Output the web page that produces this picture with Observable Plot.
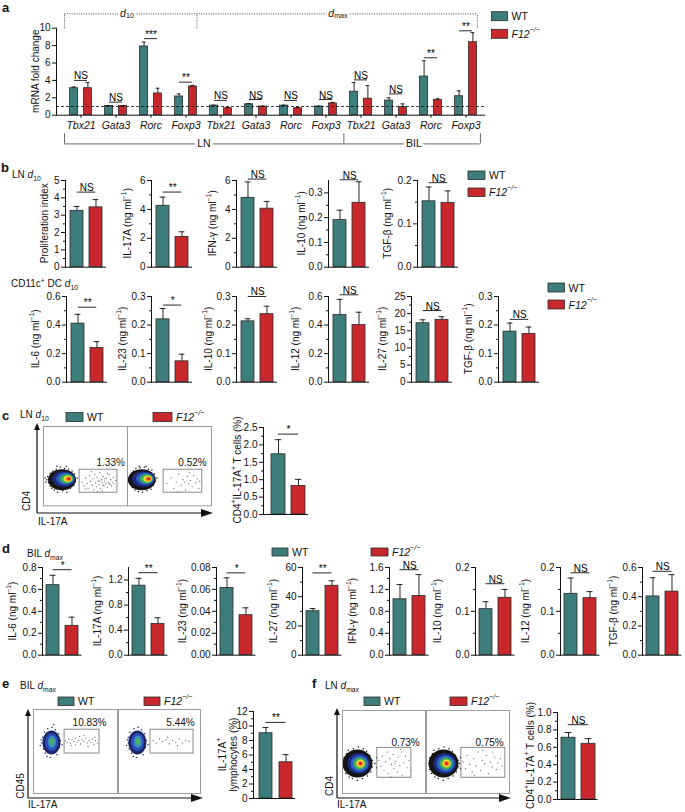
<!DOCTYPE html>
<html><head><meta charset="utf-8">
<script src="https://cdn.jsdelivr.net/npm/d3@7"></script>
<script src="https://cdn.jsdelivr.net/npm/@observablehq/plot@0.6"></script>
<style>
html,body{margin:0;padding:0;background:#fff}
#root{position:relative;width:685px;height:812px;overflow:hidden;background:#fff;font-family:"Liberation Sans",Arial,sans-serif}
</style>
</head><body><div id="root"></div>
<script>
// ---------------- data ----------------
const GROUPS = ["WT", "F12-/-"];
const COLORS = ["#3d7d7b", "#c8282b"];
const INK = "#111111";
const FONT = '"Liberation Sans", Arial, sans-serif';

// panel a: mRNA fold change
const aGenes = ["Tbx21","Gata3","Rorc","Foxp3","Tbx21","Gata3","Rorc","Foxp3","Tbx21","Gata3","Rorc","Foxp3"];
const aWT    = [3.1, 1.05, 7.9, 2.15, 1.1, 1.25, 1.1, 1.0, 2.7, 1.68, 4.44, 2.18];
const aWTerr = [0.15, 0.05, 0.5, 0.3, 0.05, 0.08, 0.05, 0.03, 1.05, 0.32, 1.82, 0.62];
const aKO    = [3.1, 1.05, 2.5, 3.3, 0.8, 1.0, 0.8, 1.35, 1.9, 0.92, 1.76, 8.39];
const aKOerr = [0.65, 0.05, 0.6, 0.12, 0.1, 0.03, 0.1, 0.12, 1.5, 0.38, 0.12, 1.1];
const aSig   = ["NS","NS","***","**","NS","NS","NS","NS","NS","NS","**","**"];
const aSigY  = [4.0, 1.5, 8.8, 3.8, 1.7, 1.8, 1.7, 1.8, 4.06, 2.45, 6.6, 9.7];
const aTicks = [0, 2, 4, 6, 8, 10];
const aTissues = [{label: "LN", first: 0, last: 7}, {label: "BIL", first: 8, last: 11}];

// panel b, LN d10
const b1Names  = ["Proliferation index", "IL-17A", "IFN-γ", "IL-10", "TGF-β"];
const b1WT     = [3.25, 4.25, 4.8, 0.19, 0.152];
const b1WTerr  = [0.25, 0.6, 1.1, 0.04, 0.033];
const b1KO     = [3.45, 2.1, 4.05, 0.26, 0.148];
const b1KOerr  = [0.45, 0.35, 0.5, 0.085, 0.028];
const b1Sig    = ["NS", "**", "NS", "NS", "NS"];
const b1SigY   = [4.33, 5.2, 6.1, 0.353, 0.195];
const b1Max    = [5, 6, 6, 0.35, 0.2];
const b1Ticks  = [[0,1,2,3,4,5], [0,2,4,6], [0,2,4,6], [0,0.1,0.2,0.3], [0,0.1,0.2]];
const b1Fmt    = ["d", "d", "d", ".1f", ".1f"];

// panel b, CD11c+ DC d10
const b2Names  = ["IL-6", "IL-23", "IL-10", "IL-12", "IL-27", "TGF-β"];
const b2WT     = [0.41, 0.22, 0.213, 0.47, 17.2, 0.177];
const b2WTerr  = [0.065, 0.038, 0.009, 0.11, 1.0, 0.03];
const b2KO     = [0.24, 0.073, 0.238, 0.40, 18.2, 0.169];
const b2KOerr  = [0.044, 0.025, 0.028, 0.09, 0.9, 0.024];
const b2Sig    = ["**", "*", "NS", "NS", "NS", "NS"];
const b2SigY   = [0.525, 0.27, 0.3, 0.612, 20.9, 0.22];
const b2Max    = [0.6, 0.3, 0.3, 0.6, 25, 0.3];
const b2Ticks  = [[0,0.2,0.4,0.6], [0,0.1,0.2,0.3], [0,0.1,0.2,0.3], [0,0.2,0.4,0.6], [0,5,10,15,20,25], [0,0.1,0.2,0.3]];
const b2Fmt    = [".1f", ".1f", ".1f", ".1f", "d", ".1f"];

// panel c
const cWT = [1.73], cWTerr = [0.42], cKO = [0.82], cKOerr = [0.19];
const cSig = ["*"], cSigY = [2.31], cMax = [2.5], cTicks = [[0,0.5,1,1.5,2,2.5]], cFmt = [".1f"];
const cPct = ["1.33%", "0.52%"];

// panel d, BIL dmax
const dNames  = ["IL-6", "IL-17A", "IL-23", "IL-27", "IFN-γ", "IL-10", "IL-12", "TGF-β"];
const dWT     = [0.639, 1.11, 0.0614, 30.1, 1.02, 0.105, 0.140, 0.402];
const dWTerr  = [0.09, 0.117, 0.0092, 1.8, 0.27, 0.017, 0.036, 0.128];
const dKO     = [0.268, 0.50, 0.0365, 47.5, 1.08, 0.131, 0.130, 0.435];
const dKOerr  = [0.079, 0.097, 0.0067, 3.4, 0.39, 0.019, 0.015, 0.116];
const dSig    = ["*", "**", "*", "**", "NS", "NS", "NS", "NS"];
const dSigY   = [0.78, 1.317, 0.0751, 56.3, 1.56, 0.163, 0.188, 0.574];
const dMax    = [0.8, 1.4, 0.08, 60, 1.6, 0.2, 0.2, 0.6];
const dTicks  = [[0,0.2,0.4,0.6,0.8], [0,0.4,0.8,1.2], [0,0.02,0.04,0.06,0.08], [0,20,40,60], [0,0.4,0.8,1.2,1.6], [0,0.1,0.2], [0,0.1,0.2], [0,0.2,0.4,0.6]];
const dFmt    = [".1f", ".1f", ".2f", "d", ".1f", ".1f", ".1f", ".1f"];

// panel e, BIL dmax
const eWT = [9.0], eWTerr = [0.8], eKO = [5.0], eKOerr = [1.05];
const eSig = ["**"], eSigY = [10.5], eMax = [12], eTicks = [[0,2,4,6,8,10,12]], eFmt = ["d"];
const ePct = ["10.83%", "5.44%"];

// panel f, LN dmax
const fWT = [0.71], fWTerr = [0.06], fKO = [0.64], fKOerr = [0.06];
const fSig = ["NS"], fSigY = [0.86], fMax = [1.0], fTicks = [[0,0.2,0.4,0.6,0.8,1.0]], fFmt = [".1f"];
const fPct = ["0.73%", "0.75%"];

// flow cytometry events (IL-17A vs CD4/CD45, arbitrary units 0-100)
const cWTdensity = [
  {x:22, y:33, rx:14, ry:10.5, fill:"#141414"}, {x:24, y:33.5, rx:11.5, ry:8, fill:"#1c2a7a"},
  {x:26, y:34, rx:9, ry:6, fill:"#2d62c9"}, {x:27.5, y:34, rx:6.5, ry:4.6, fill:"#3cae5a"},
  {x:29, y:34, rx:4.5, ry:3.3, fill:"#e9df2a"}, {x:29.8, y:34, rx:3, ry:2.3, fill:"#f0862a"},
  {x:30.3, y:34, rx:1.7, ry:1.4, fill:"#e0241f"}];
const cKOdensity = [
  {x:17, y:33, rx:14, ry:10.5, fill:"#141414"}, {x:19, y:33.5, rx:11.5, ry:8, fill:"#1c2a7a"},
  {x:21, y:34, rx:9, ry:6, fill:"#2d62c9"}, {x:22.5, y:34, rx:6.5, ry:4.6, fill:"#3cae5a"},
  {x:24, y:34, rx:4.5, ry:3.3, fill:"#e9df2a"}, {x:24.8, y:34, rx:3, ry:2.3, fill:"#f0862a"},
  {x:25.3, y:34, rx:1.7, ry:1.4, fill:"#e0241f"}];
const cWTedge = [[4,33],[6,29],[5,37],[8,25],[8,41],[10,22],[11,44],[13,20],[15,46],[17,17],[20,49],[23,19],[25,47],[28,17],[30,46],[32,22],[34,44],[36,26],[37,40],[38,31],[40,35],[3,30],[7,34],[12,42],[9,31],[33,38],[35,29],[2,35],[16,50],[27,50]];
const cKOedge = [[2,31],[3,36],[4,27],[5,40],[6,23],[7,44],[9,20],[10,47],[13,18],[15,48],[18,17],[20,49],[23,19],[25,46],[28,21],[29,45],[31,26],[32,40],[33,31],[35,35],[1,34],[6,33],[11,43],[14,50],[22,50],[30,29]];
const cWTgate = [[46,30],[48,25],[50,35],[52,28],[53,22],[55,38],[56,31],[58,26],[59,34],[60,20],[61,40],[62,29],[63,24],[64,36],[65,31],[66,27],[67,42],[68,22],[69,33],[70,29],[71,37],[72,25],[73,31],[74,28],[75,35],[76,23],[77,30],[78,39],[79,27],[80,33],[81,25],[82,30],[83,36],[84,28],[86,32],[70,19],[57,43],[64,18],[76,41],[50,21],[73,34],[78,28],[67,31],[71,26]];
const cKOgate = [[47,28],[52,35],[55,22],[58,30],[61,40],[64,26],[66,33],[69,20],[71,37],[73,28],[75,32],[77,24],[79,38],[81,29],[83,34],[85,22],[68,30],[60,18],[74,42],[86,31]];

const eWTdensity = [
  {x:21.4, y:60.7, rx:9, ry:12, fill:"#1d2468"}, {x:21.6, y:61, rx:6.5, ry:9, fill:"#2b4fb8"},
  {x:22, y:61.5, rx:4, ry:6, fill:"#3f8fc0"}, {x:22.5, y:62, rx:2.2, ry:3.5, fill:"#4cb25a"}];
const eKOdensity = [
  {x:23, y:60.7, rx:9, ry:12, fill:"#1d2468"}, {x:23.2, y:61, rx:6.5, ry:9, fill:"#2b4fb8"},
  {x:23.6, y:61.5, rx:4, ry:6, fill:"#3f8fc0"}, {x:24, y:62, rx:2.2, ry:3.5, fill:"#4cb25a"}];
const eWTedge = [[10,60],[11,67],[12,53],[13,73],[14,48],[17,77],[16,44],[26,76],[28,46],[30,71],[31,55],[32,63],[9,64],[20,43],[22,79],[34,58],[8,57],[24,82]];
const eKOedge = [[12,60],[12,67],[13,53],[14,73],[16,48],[19,77],[18,44],[28,76],[30,46],[32,71],[33,55],[34,63],[11,64],[22,43],[24,79],[36,58],[10,57]];
const eWTgate = [[38,63],[40,61],[42,65],[44,60],[46,64],[48,62],[50,66],[52,61],[54,63],[56,59],[58,64],[60,62],[62,66],[64,60],[66,63],[68,61],[70,65],[72,58],[74,63],[76,60],[45,57],[55,68],[65,56],[73,67],[50,58],[60,69]];
const eKOgate = [[42,63],[46,60],[50,65],[54,62],[58,64],[62,59],[66,63],[70,61],[74,65],[78,60],[82,63],[86,62],[60,67],[72,57]];

const fWTdensity = [
  {x:18, y:36, rx:15, ry:14, fill:"#141414"}, {x:19.5, y:36, rx:11.5, ry:10.5, fill:"#1c2a7a"},
  {x:20.5, y:36, rx:9, ry:8.3, fill:"#2d62c9"}, {x:21, y:36, rx:6.5, ry:6, fill:"#3cae5a"},
  {x:21.5, y:36, rx:4.3, ry:4, fill:"#e9df2a"}, {x:21.7, y:36, rx:2.8, ry:2.6, fill:"#f0862a"},
  {x:21.7, y:36, rx:1.6, ry:1.5, fill:"#e0241f"}];
const fKOdensity = [
  {x:20.5, y:36, rx:15, ry:14, fill:"#141414"}, {x:22, y:36, rx:11.5, ry:10.5, fill:"#1c2a7a"},
  {x:23, y:36, rx:9, ry:8.3, fill:"#2d62c9"}, {x:23.5, y:36, rx:6.5, ry:6, fill:"#3cae5a"},
  {x:24, y:36, rx:4.3, ry:4, fill:"#e9df2a"}, {x:24.1, y:36, rx:2.8, ry:2.6, fill:"#f0862a"},
  {x:24.1, y:36, rx:1.6, ry:1.5, fill:"#e0241f"}];
const fWTedge = [[1,36],[3,29],[2,43],[4,24],[5,48],[8,20],[7,52],[12,18],[13,54],[18,16],[19,56],[24,18],[25,54],[30,21],[29,51],[34,26],[33,46],[36,32],[36,40],[39,36],[41,31],[41,43],[6,34],[10,45],[27,27],[15,24]];
const fKOedge = [[3,36],[4,29],[4,43],[6,24],[7,48],[10,20],[9,52],[14,18],[15,54],[20,16],[21,56],[26,18],[27,54],[32,21],[31,51],[36,26],[35,46],[38,32],[38,40],[40,36],[41,30],[41,43],[8,34],[12,45],[29,27]];
const fWTgate = [[44,40],[46,33],[48,45],[50,28],[52,38],[54,50],[55,24],[57,42],[59,35],[61,47],[62,30],[64,39],[66,26],[67,44],[69,34],[71,50],[72,22],[74,37],[76,45],[78,31],[80,40],[82,28],[58,20],[70,53],[63,36]];
const fKOgate = [[44,38],[47,30],[49,46],[52,35],[55,26],[57,42],[60,33],[62,50],[65,28],[67,40],[70,36],[72,46],[75,24],[77,38],[79,32],[82,44],[84,29],[86,37],[89,42],[91,33],[68,52],[58,22],[80,50]];

// ---------------- layout ----------------
const root = document.getElementById("root");
function place(el, left, top) {
  el.style.position = "absolute"; el.style.left = left + "px"; el.style.top = top + "px";
  root.appendChild(el);
}
const baseStyle = {fontFamily: FONT, fontSize: "10px", color: INK, background: "transparent", overflow: "visible"};

function barPanel(L, D) {
  D.wt.forEach((_, i) => {
    const mL = 40, mT = 24, mB = 3, mR = 3;
    const span = 2 * L.bw + L.gap;
    const inner = L.off + span + 2;
    const H = L.bot - L.top;
    const rows = [
      {g: GROUPS[0], v: D.wt[i], e: D.wt[i] + D.wtErr[i]},
      {g: GROUPS[1], v: D.ko[i], e: D.ko[i] + D.koErr[i]}];
    const sig = [{a: GROUPS[0], b: GROUPS[1], y: D.sigY[i], label: D.sig[i]}];
    const ticks = D.ticks[i];
    const minor = d3.pairs(ticks, (p, q) => (p + q) / 2);
    const x0 = mL + L.off;
    const svg = Plot.plot({
      width: mL + inner + mR, height: mT + H + mB,
      marginLeft: mL, marginRight: mR, marginTop: mT, marginBottom: mB,
      style: baseStyle,
      x: {type: "band", domain: GROUPS, range: [x0, x0 + span], paddingInner: L.gap / (L.bw + L.gap), paddingOuter: 0, axis: null},
      y: {domain: [0, D.max[i]], axis: null},
      color: {domain: GROUPS, range: COLORS},
      marks: [
        Plot.barY(rows, {x: "g", y: "v", fill: "g", stroke: "#2b2b2b", strokeWidth: 0.8}),
        Plot.ruleX(rows, {x: "g", y1: "v", y2: "e", stroke: INK, strokeWidth: 0.9}),
        Plot.tickY(rows, {x: "g", y: "e", stroke: INK, strokeWidth: 0.9, insetLeft: L.bw * 0.27, insetRight: L.bw * 0.27}),
        Plot.axisY({ticks, tickSize: 4, tickPadding: 2, tickFormat: d3.format(D.fmt[i]), stroke: INK, fill: INK, fontSize: 10}),
        Plot.axisY({ticks: minor, tickSize: 2, tickFormat: () => "", stroke: INK}),
        Plot.frame({anchor: "left", stroke: INK}),
        Plot.frame({anchor: "bottom", stroke: INK}),
        Plot.ruleY(sig, {x1: "a", x2: "b", y: "y", insetLeft: L.bw / 2, insetRight: L.bw / 2, stroke: INK, strokeWidth: 0.9}),
        Plot.text(sig, {x: "a", y: "y", text: "label", dx: (L.bw + L.gap) / 2, dy: -1, lineAnchor: "bottom", fontSize: 10, fill: "#000"})
      ]
    });
    place(svg, L.axes[i] - mL, L.top - mT);
  });
}

// panel a chart
(function panelA() {
  const keys = d3.range(aGenes.length);
  const bwid = 35.74, half = bwid / 2, barW = 8.8, barGap = 5, wc = (barW + barGap) / 2;
  const wt = keys.map(i => ({k: i, v: aWT[i], e: aWT[i] + aWTerr[i]}));
  const ko = keys.map(i => ({k: i, v: aKO[i], e: aKO[i] + aKOerr[i]}));
  const sig = keys.map(i => ({k: i, y: aSigY[i], label: aSig[i]}));
  const H = 160, yTop = 27.7, yBot = 114.7;
  const svg = Plot.plot({
    width: 490, height: H, marginLeft: 56, marginRight: 6, marginTop: yTop, marginBottom: H - yBot,
    style: baseStyle,
    x: {type: "band", domain: keys, range: [58.6, 58.6 + 12 * bwid], padding: 0, axis: null},
    y: {domain: [0, 10], axis: null},
    marks: [
      Plot.barY(wt, {x: "k", y: "v", fill: COLORS[0], stroke: "#2b2b2b", strokeWidth: 0.8, insetLeft: half - wc - barW / 2, insetRight: half + wc - barW / 2}),
      Plot.barY(ko, {x: "k", y: "v", fill: COLORS[1], stroke: "#2b2b2b", strokeWidth: 0.8, insetLeft: half + wc - barW / 2, insetRight: half - wc - barW / 2}),
      Plot.ruleX(wt, {x: "k", y1: "v", y2: "e", dx: -wc, stroke: INK, strokeWidth: 0.9}),
      Plot.ruleX(ko, {x: "k", y1: "v", y2: "e", dx: wc, stroke: INK, strokeWidth: 0.9}),
      Plot.tickY(wt, {x: "k", y: "e", insetLeft: half - wc - 2.3, insetRight: half + wc - 2.3, stroke: INK, strokeWidth: 0.9}),
      Plot.tickY(ko, {x: "k", y: "e", insetLeft: half + wc - 2.3, insetRight: half - wc - 2.3, stroke: INK, strokeWidth: 0.9}),
      Plot.ruleY([1], {stroke: INK, strokeWidth: 0.8, strokeDasharray: "3,2"}),
      Plot.axisY({ticks: aTicks, tickSize: 4, tickPadding: 2, stroke: INK, fill: INK, fontSize: 10}),
      Plot.frame({anchor: "left", stroke: INK}),
      Plot.frame({anchor: "bottom", stroke: INK}),
      Plot.ruleX(keys, {x: d => d, y1: 0, y2: -0.35, stroke: INK}),
      Plot.tickY(sig, {x: "k", y: "y", insetLeft: half - wc, insetRight: half - wc, stroke: INK, strokeWidth: 0.9}),
      Plot.text(sig, {x: "k", y: "y", text: "label", dy: -1, lineAnchor: "bottom", fontSize: 10, fill: "#000"}),
      Plot.text(keys, {x: d => d, text: i => aGenes[i], frameAnchor: "bottom", dy: 13.3, fontStyle: "italic", fontSize: 10.5, fill: INK}),
      // dotted time brackets (d10 / dmax)
      Plot.ruleY([11.65], {x1: () => 0, x2: () => 11, insetLeft: half - 16.5, insetRight: half - 11.4, stroke: "#333", strokeWidth: 0.9, strokeDasharray: "1,1.4"}),
      Plot.ruleX([0], {x: d => d, y1: 9.95, y2: 11.65, dx: -16.5, stroke: "#333", strokeWidth: 0.9, strokeDasharray: "1,1.4"}),
      Plot.ruleX([3], {x: d => d, y1: 9.95, y2: 11.65, dx: 11, stroke: "#333", strokeWidth: 0.9, strokeDasharray: "1,1.4"}),
      Plot.ruleX([11], {x: d => d, y1: 9.95, y2: 11.65, dx: 11.4, stroke: "#333", strokeWidth: 0.9, strokeDasharray: "1,1.4"}),
      // tissue brackets (LN / BIL)
      Plot.ruleY([-3.3], {x1: () => 0, x2: () => 11, insetLeft: half - 16.5, insetRight: half - 14.4, stroke: "#555", strokeWidth: 0.9}),
      Plot.ruleX([0], {x: d => d, y1: -2.14, y2: -3.3, dx: -16.5, stroke: "#555", strokeWidth: 0.9}),
      Plot.ruleX([7], {x: d => d, y1: -2.14, y2: -3.3, dx: half, stroke: "#555", strokeWidth: 0.9}),
      Plot.ruleX([11], {x: d => d, y1: -2.14, y2: -3.3, dx: 14.4, stroke: "#555", strokeWidth: 0.9}),
      Plot.text(aTissues, {x: d => Math.floor((d.first + d.last) / 2), y: () => -3.3, dx: half, text: "label", fontSize: 10.5, fill: INK, stroke: "white", strokeWidth: 6})
    ]
  });
  place(svg, 0, 0);
})();

barPanel({top: 180, bot: 266.7, axes: [64.7, 150.7, 236, 327.7, 417], off: 5, bw: 13.5, gap: 6},
  {wt: b1WT, wtErr: b1WTerr, ko: b1KO, koErr: b1KOerr, sig: b1Sig, sigY: b1SigY, max: b1Max, ticks: b1Ticks, fmt: b1Fmt});
barPanel({top: 296, bot: 381.7, axes: [65.5, 150.7, 236, 327.7, 410.7, 498], off: 5, bw: 13.5, gap: 6},
  {wt: b2WT, wtErr: b2WTerr, ko: b2KO, koErr: b2KOerr, sig: b2Sig, sigY: b2SigY, max: b2Max, ticks: b2Ticks, fmt: b2Fmt});
barPanel({top: 427, bot: 514, axes: [263], off: 8, bw: 14, gap: 6},
  {wt: cWT, wtErr: cWTerr, ko: cKO, koErr: cKOerr, sig: cSig, sigY: cSigY, max: cMax, ticks: cTicks, fmt: cFmt});
barPanel({top: 567.3, bot: 655, axes: [42, 128, 216, 302, 389, 475, 560, 642], off: 4, bw: 13, gap: 6.5},
  {wt: dWT, wtErr: dWTerr, ko: dKO, koErr: dKOerr, sig: dSig, sigY: dSigY, max: dMax, ticks: dTicks, fmt: dFmt});
barPanel({top: 711, bot: 798, axes: [253], off: 6, bw: 13, gap: 7},
  {wt: eWT, wtErr: eWTerr, ko: eKO, koErr: eKOerr, sig: eSig, sigY: eSigY, max: eMax, ticks: eTicks, fmt: eFmt});
barPanel({top: 712, bot: 799, axes: [557], off: 4, bw: 13.5, gap: 6.5},
  {wt: fWT, wtErr: fWTerr, ko: fKO, koErr: fKOerr, sig: fSig, sigY: fSigY, max: fMax, ticks: fTicks, fmt: fFmt});

// flow cytometry plots
const ellipse = (rx, ry) => ({draw(ctx) {
  const k = 0.5523;
  ctx.moveTo(rx, 0);
  ctx.bezierCurveTo(rx, ry * k, rx * k, ry, 0, ry);
  ctx.bezierCurveTo(-rx * k, ry, -rx, ry * k, -rx, 0);
  ctx.bezierCurveTo(-rx, -ry * k, -rx * k, -ry, 0, -ry);
  ctx.bezierCurveTo(rx * k, -ry, rx, -ry * k, rx, 0);
  ctx.closePath();
}});
function flow(box, density, edge, gateEvents, gate, pct, edgeColor) {
  const w = box[1] - box[0], h = box[3] - box[2];
  const svg = Plot.plot({
    width: w, height: h, margin: 0, style: baseStyle,
    x: {domain: [0, 100], axis: null}, y: {domain: [0, 100], axis: null},
    marks: [
      Plot.dot(edge, {x: d => d[0], y: d => d[1], r: 0.75, fill: edgeColor}),
      ...density.map(b => Plot.dot([b], {x: "x", y: "y", r: 1, fill: b.fill, symbol: ellipse(b.rx, b.ry)})),
      Plot.dot(gateEvents, {x: d => d[0], y: d => d[1], r: 0.6, fill: "#5a5a5a"}),
      Plot.rect([gate], {x1: "x1", x2: "x2", y1: "y1", y2: "y2", fill: "none", stroke: "#7d7d7d", strokeWidth: 0.9}),
      Plot.text([gate], {x: "tx", y: "ty", text: () => pct, fontSize: 10, fill: INK}),
      Plot.frame({stroke: "#9c9c9c", strokeWidth: 1})
    ]
  });
  // soften the density contours a little
  d3.select(svg).selectAll('g[aria-label="dot"]').filter((_, j) => j >= 1 && j <= density.length)
    .style("filter", "blur(0.45px)");
  place(svg, box[0], box[2]);
}
flow([43, 127, 425.7, 505], cWTdensity, cWTedge, cWTgate, {x1: 43, x2: 88, y1: 16.5, y2: 45.5, tx: 80, ty: 54.4}, cPct[0], "#111");
flow([127, 211, 425.7, 505], cKOdensity, cKOedge, cKOgate, {x1: 43, x2: 89, y1: 16.5, y2: 45.5, tx: 77.4, ty: 54.4}, cPct[1], "#111");
flow([33, 117, 709, 793], eWTdensity, eWTedge, eWTgate, {x1: 37, x2: 78.6, y1: 47.6, y2: 76, tx: 66.7, ty: 84.5}, ePct[0], "#1d2468");
flow([118, 200, 709, 793], eKOdensity, eKOedge, eKOgate, {x1: 39, x2: 91.5, y1: 47.6, y2: 76, tx: 75.6, ty: 84.5}, ePct[1], "#1d2468");
flow([342, 425, 710, 793], fWTdensity, fWTedge, fWTgate, {x1: 42, x2: 83, y1: 19, y2: 55, tx: 76, ty: 61.4}, fPct[0], "#111");
flow([426, 509, 710, 793], fKOdensity, fKOedge, fKOgate, {x1: 42, x2: 95, y1: 19, y2: 55, tx: 76, ty: 61.4}, fPct[1], "#111");

// ---------------- overlay: texts, legends, arrows ----------------
const ov = d3.select(root).append("svg").attr("width", 685).attr("height", 812)
  .style("position", "absolute").style("left", "0px").style("top", "0px")
  .style("overflow", "visible").attr("font-family", FONT);

function label(x, y, parts, o = {}) {
  const s = o.size || 10;
  const g = ov.append("g")
    .attr("transform", `translate(${x},${y})${o.rotate ? ` rotate(${o.rotate})` : ""}`);
  const t = g.append("text")
    .attr("font-size", s).attr("fill", o.fill || INK)
    .attr("text-anchor", o.anchor || "start");
  if (o.weight) t.attr("font-weight", o.weight);
  if (o.central) t.attr("dominant-baseline", "central");
  let shift = 0;
  for (const p of [].concat(parts)) {
    const [str, kind = ""] = typeof p === "string" ? [p] : p;
    const ks = kind.split(" ");
    const ts = t.append("tspan").text(str);
    const sup = ks.includes("sup"), sub = ks.includes("sub");
    const target = sup ? -0.4 * s : sub ? 0.3 * s : 0;
    if (target !== shift) { ts.attr("dy", target - shift); shift = target; }
    if (sup || sub) ts.attr("font-size", 0.68 * s);
    if (ks.includes("i")) ts.attr("font-style", "italic");
  }
  if (o.bg) {
    const bb = t.node().getBBox();
    g.insert("rect", "text").attr("x", bb.x - 2).attr("y", bb.y).attr("width", bb.width + 4)
      .attr("height", bb.height).attr("fill", "#fff");
  }
}
const F12 = [["F12", "i"], ["−/−", "i sup"]];
function legendItem(x, y, w, h, color, parts) {
  ov.append("rect").attr("x", x).attr("y", y).attr("width", w).attr("height", h)
    .attr("fill", color).attr("stroke", "#2b2b2b").attr("stroke-width", 0.8);
  label(x + w + 4, y + h / 2, parts, {size: 10.5, central: true});
}
const ngml = name => [name + " (ng ml", ["−1", "sup"], ")"];

// panel letters & headers
label(2, 12, "a", {size: 13, weight: "bold"});
label(1, 172, "b", {size: 13, weight: "bold"});
label(12, 178, ["LN ", ["d", "i"], ["10", "sub"]], {size: 10});
label(11, 287, ["CD11c", ["+", "sup"], " DC ", ["d", "i"], ["10", "sub"]], {size: 10});
label(2, 420, "c", {size: 13, weight: "bold"});
label(20, 418, ["LN ", ["d", "i"], ["10", "sub"]], {size: 10});
label(2, 553, "d", {size: 13, weight: "bold"});
label(27, 557, ["BIL ", ["d", "i"], ["max", "sub"]], {size: 10});
label(2, 688, "e", {size: 13, weight: "bold"});
label(20, 689, ["BIL ", ["d", "i"], ["max", "sub"]], {size: 10});
label(312, 688, "f", {size: 13, weight: "bold"});
label(325, 689, ["LN ", ["d", "i"], ["max", "sub"]], {size: 10});

// panel a annotations
label(127, 13.3, [["d", "i"], ["10", "sub"]], {size: 10.5, anchor: "middle", central: true, bg: true});
label(338, 13.3, [["d", "i"], ["max", "sub"]], {size: 10.5, anchor: "middle", central: true, bg: true});
label(35, 71.2, "mRNA fold change", {size: 10, anchor: "middle", central: true, rotate: -90});

// y titles
const b1Titles = [["Proliferation index"], ...b1Names.slice(1).map(ngml)];
[43.7, 126.7, 212, 301, 386.6].forEach((x, i) => label(x, 223.3, b1Titles[i], {anchor: "middle", central: true, rotate: -90}));
[35, 121.5, 207.5, 295, 382, 467.5].forEach((x, i) => label(x, 338.8, ngml(b2Names[i]), {anchor: "middle", central: true, rotate: -90}));
[12, 97, 182, 273, 352, 437, 525, 613].forEach((x, i) => label(x, 611, ngml(dNames[i]), {anchor: "middle", central: true, rotate: -90}));
const cd4il17 = ["CD4", ["+", "sup"], "IL-17A", ["+", "sup"], " T cells (%)"];
label(237, 470, cd4il17, {anchor: "middle", central: true, rotate: -90});
label(222, 754.5, ["IL-17A", ["+", "sup"]], {anchor: "middle", central: true, rotate: -90});
label(233, 754.5, "lymphocytes (%)", {anchor: "middle", central: true, rotate: -90});
label(530, 755.5, cd4il17, {anchor: "middle", central: true, rotate: -90});

// legends
legendItem(491.5, 11.7, 16, 9, COLORS[0], "WT");
legendItem(491.5, 29.3, 16, 9, COLORS[1], F12);
legendItem(468, 171, 17, 8.5, COLORS[0], "WT");
legendItem(468, 188, 17, 8.5, COLORS[1], F12);
legendItem(548, 283, 16.5, 9, COLORS[0], "WT");
legendItem(548, 300, 16.5, 9, COLORS[1], F12);
legendItem(66, 412.5, 17, 9, COLORS[0], "WT");
legendItem(153, 412.5, 19, 9, COLORS[1], F12);
legendItem(272, 548, 16, 8, COLORS[0], "WT");
legendItem(371, 548, 17, 8, COLORS[1], F12);
legendItem(58, 697, 16, 8.5, COLORS[0], "WT");
legendItem(144, 697, 16, 8.5, COLORS[1], F12);
legendItem(364, 697, 16, 8.5, COLORS[0], "WT");
legendItem(450, 697, 17, 8.5, COLORS[1], F12);

// flow axes arrows and labels
function arrows(x, yB, yTopTip, xRightTip) {
  ov.append("path").attr("d", `M${x},${yB}V${yTopTip + 7}M${x},${yB}H${xRightTip - 11}`)
    .attr("stroke", INK).attr("stroke-width", 1.2).attr("fill", "none");
  ov.append("path").attr("d", `M${x - 3},${yTopTip + 7}L${x + 3},${yTopTip + 7}L${x},${yTopTip}Z`).attr("fill", INK);
  ov.append("path").attr("d", `M${xRightTip - 12},${yB - 4}L${xRightTip - 12},${yB + 4}L${xRightTip},${yB}Z`).attr("fill", INK);
}
arrows(37, 513, 423, 213);
arrows(28, 798, 709, 203);
arrows(337, 798, 708, 511);
label(26, 501, "CD4", {anchor: "middle", central: true, rotate: -90});
label(38, 524.5, "IL-17A");
label(19.5, 786, "CD45", {anchor: "middle", central: true, rotate: -90});
label(28, 808, "IL-17A");
label(329, 786, "CD4", {anchor: "middle", central: true, rotate: -90});
label(337, 808, "IL-17A");
</script></body></html>
